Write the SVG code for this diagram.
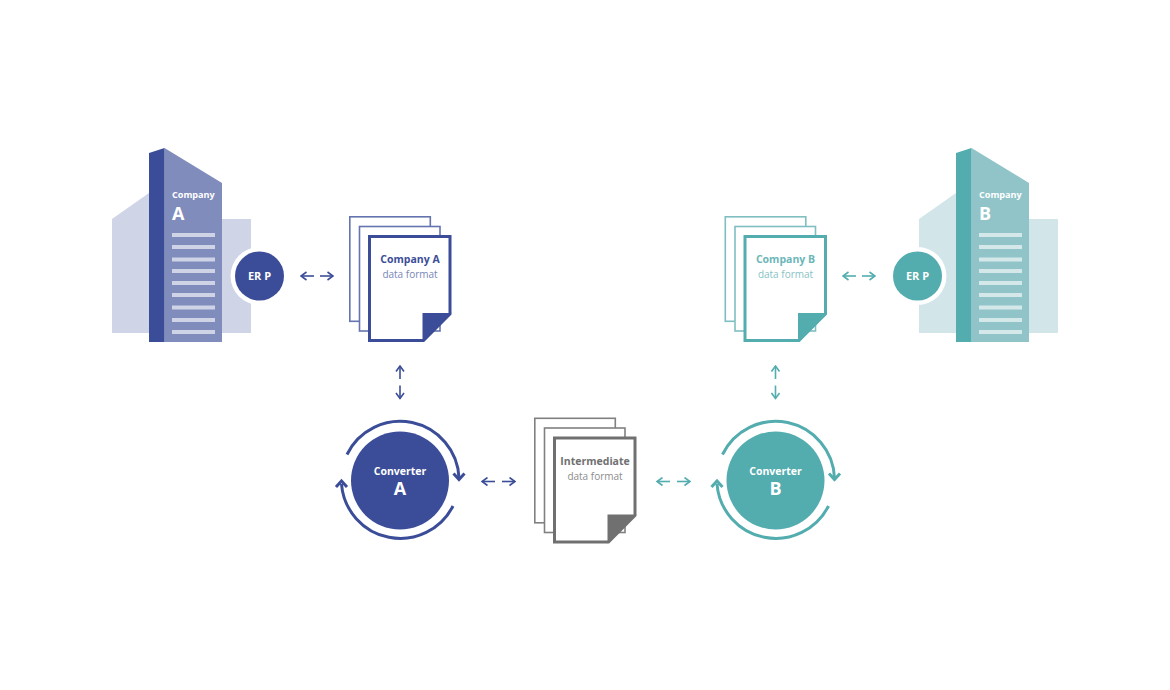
<svg xmlns="http://www.w3.org/2000/svg" width="1170" height="690" viewBox="0 0 1170 690">
<style>
text{font-family:"Open Sans","Noto Sans","Liberation Sans",sans-serif;text-anchor:middle}
.w{fill:#fff;font-weight:700}
.ws{fill:#fff;font-weight:700;font-size:9.100px;text-anchor:start}
.big{font-size:18px;text-anchor:start}
.blue{--d:#3b4d98;--m:#7f8cbc;--p:#cfd4e6;--s:#6474af;--t:#7886b7}
.teal{--d:#53acae;--m:#90c4c8;--p:#d2e5e8;--s:#7fbfc1;--t:#86c3c5}
.gray{--d:#707070;--m:#8c8c8c;--p:#ddd;--s:#808080;--t:#8c8c8c}
.d{fill:var(--d)}.m{fill:var(--m)}.p{fill:var(--p)}
.sheet{fill:#fff;stroke:var(--s);stroke-width:1.6}
.front{fill:#fff;stroke:var(--d);stroke-width:3}
.t1{font-size:10.500px;font-weight:700;fill:var(--d)}
.t2{font-size:10px;font-weight:400;fill:var(--t)}
.teal .t1{fill:#6bb6b9}
.win{fill:#fff;opacity:.62}
.arc{fill:none;stroke-width:3}
.ab{stroke:#3b4d98}.at{stroke:#53acae}
.cn{fill:none;stroke-width:1.6}
</style>
<defs>
<marker id="hb" viewBox="0 0 8 10" refX="7" refY="5" markerWidth="8" markerHeight="10" markerUnits="userSpaceOnUse" orient="auto-start-reverse"><path d="M1.500 1L7 5L1.500 9" fill="none" stroke="#3b4d98" stroke-width="1.6"/></marker>
<marker id="ht" viewBox="0 0 8 10" refX="7" refY="5" markerWidth="8" markerHeight="10" markerUnits="userSpaceOnUse" orient="auto-start-reverse"><path d="M1.500 1L7 5L1.500 9" fill="none" stroke="#53acae" stroke-width="1.6"/></marker>
<g id="bldg">
<path class="p" d="M112 219L149 193V333H112Z"/><rect class="p" x="222" y="219" width="29" height="114"/>
<path class="m" d="M164.500 148L222 183V342H164.500Z"/><path class="d" d="M149 153L164.500 148V342H149Z"/>
<g class="win"><rect x="172" y="233" width="43" height="4"/><rect x="172" y="245" width="43" height="4"/><rect x="172" y="257.500" width="43" height="4"/><rect x="172" y="269" width="43" height="4"/><rect x="172" y="281" width="43" height="4"/><rect x="172" y="293" width="43" height="4"/><rect x="172" y="305.500" width="43" height="4"/><rect x="172" y="318" width="43" height="4"/><rect x="172" y="330" width="43" height="4"/></g>
</g>
<g id="doc">
<rect class="sheet" x="349.800" y="216.800" width="80.500" height="104.500"/>
<rect class="sheet" x="359.500" y="226.500" width="80.500" height="104.500"/>
<path class="front" d="M369.500 236.500H450V314L423.500 340.500H369.500Z"/>
<path class="d" d="M422.500 313H451.500L422.500 342Z"/>
</g>
<g id="conv">
<circle class="d" cx="400" cy="480.500" r="49"/>
</g>
</defs>

<g id="building-a" class="blue"><use href="#bldg"/><text class="ws" x="172" y="198">Company</text><text class="w big" x="172" y="220">A</text></g>
<g id="erp-a" class="blue"><circle cx="259.500" cy="276" r="29" fill="#fff"/><circle class="d" cx="259.500" cy="276" r="24.500"/><text class="w" x="259.500" y="280" font-size="11">ER P</text></g>

<g id="building-b" class="teal"><use href="#bldg" transform="translate(807)"/><text class="ws" x="979" y="198">Company</text><text class="w big" x="979" y="220">B</text></g>
<g id="erp-b" class="teal"><circle cx="917.500" cy="276" r="29" fill="#fff"/><circle class="d" cx="917.500" cy="276" r="24.500"/><text class="w" x="917.500" y="280" font-size="11">ER P</text></g>

<g id="doc-a" class="blue"><use href="#doc"/><text class="t1" x="410" y="263">Company A</text><text class="t2" x="410" y="278">data format</text></g>
<g id="doc-b" class="teal"><use href="#doc" transform="translate(375.500)"/><text class="t1" x="785.500" y="263">Company B</text><text class="t2" x="785.500" y="278">data format</text></g>
<g id="doc-i" class="gray"><use href="#doc" transform="translate(185 201.500)"/><text class="t1" x="595" y="464.500">Intermediate</text><text class="t2" x="595" y="479.500">data format</text></g>

<g id="converter-a" class="blue"><use href="#conv"/>
<path class="arc ab" d="M347 454.500A59 59 0 0 1 459 478"/><path class="arc ab" d="M453 506A59 59 0 0 1 341.500 484"/>
<path class="arc ab" d="M453.500 473.500L459 479.500L464.500 473.500"/><path class="arc ab" d="M336 487L341.500 481L347 487"/>
<text class="w" x="400" y="475" font-size="10.500">Converter</text><text class="w" x="400" y="495" font-size="18">A</text></g>
<g id="converter-b" class="teal"><use href="#conv" transform="translate(375.500)"/>
<path class="arc at" d="M722.500 454.500A59 59 0 0 1 834.500 478"/><path class="arc at" d="M828.500 506A59 59 0 0 1 717 484"/>
<path class="arc at" d="M829 473.500L834.500 479.500L840 473.500"/><path class="arc at" d="M711.500 487L717 481L722.500 487"/>
<text class="w" x="775.500" y="475" font-size="10.500">Converter</text><text class="w" x="775.500" y="495" font-size="18">B</text></g>

<g id="connectors">
<path class="cn ab" marker-end="url(#hb)" d="M314 276H301"/><path class="cn ab" marker-end="url(#hb)" d="M320 276H333"/>
<path class="cn at" marker-end="url(#ht)" d="M856 276H843"/><path class="cn at" marker-end="url(#ht)" d="M862 276H875"/>
<path class="cn ab" marker-end="url(#hb)" d="M400 379V366"/><path class="cn ab" marker-end="url(#hb)" d="M400 385.500V398.500"/>
<path class="cn at" marker-end="url(#ht)" d="M775.500 379V366"/><path class="cn at" marker-end="url(#ht)" d="M775.500 385.500V398.500"/>
<path class="cn ab" marker-end="url(#hb)" d="M495 481.500H482"/><path class="cn ab" marker-end="url(#hb)" d="M502 481.500H515"/>
<path class="cn at" marker-end="url(#ht)" d="M670 481.500H657"/><path class="cn at" marker-end="url(#ht)" d="M677 481.500H690"/>
</g>
</svg>
